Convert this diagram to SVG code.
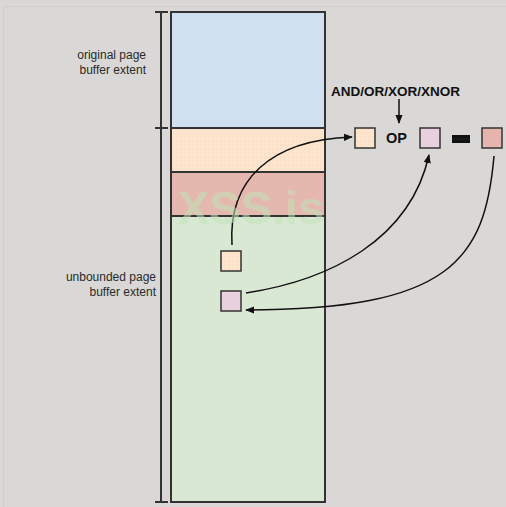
<svg xmlns="http://www.w3.org/2000/svg" width="506" height="507" viewBox="0 0 506 507">
<defs>
<pattern id="dots" width="4" height="4" patternUnits="userSpaceOnUse">
<rect width="4" height="4" fill="#fde5cd"/>
<circle cx="1" cy="1" r="0.5" fill="#f0cdb0"/>
</pattern>
<marker id="ah" viewBox="0 0 10 10" refX="9" refY="5" markerWidth="9" markerHeight="9" markerUnits="userSpaceOnUse" orient="auto">
<path d="M0,1 L10,5 L0,9 z" fill="#111"/>
</marker>
<style>
.lbl{font-family:"Liberation Sans",Arial,sans-serif;font-size:12px;fill:#2a2a2a;text-anchor:end}
.bold{font-family:"Liberation Sans",Arial,sans-serif;font-weight:bold;fill:#111}
.seg{stroke:#333;stroke-width:2}
.box{stroke:#333;stroke-width:1.5}
.conn{fill:none;stroke:#111;stroke-width:1.5}
.brk{stroke:#333;stroke-width:2;fill:none}
</style>
</defs>
<rect width="506" height="507" fill="#d9d8d6"/>
<rect x="3.5" y="6.5" width="510" height="510" fill="none" stroke="#cfcecc" stroke-width="1"/>

<g id="buffer">
<rect x="171" y="12" width="154" height="116" fill="#cfe1f0" class="seg"/>
<rect x="171" y="128" width="154" height="44" fill="url(#dots)" class="seg"/>
<rect x="171" y="172" width="154" height="44" fill="#e5b8af" class="seg"/>
<rect x="171" y="216" width="154" height="286" fill="#d9e8d3" class="seg"/>
</g>

<g id="brackets">
<path class="brk" d="M161,12 V502 M155,12 H168 M155,128 H168 M155,502 H168"/>
</g>

<g id="labels">
<text class="lbl" x="146" y="59">original page</text>
<text class="lbl" x="146" y="74">buffer extent</text>
<text class="lbl" x="156" y="281">unbounded page</text>
<text class="lbl" x="156" y="296">buffer extent</text>
</g>

<g id="op-label">
<text class="bold" x="331" y="96" font-size="13.5">AND/OR/XOR/XNOR</text>
</g>

<g id="box1"><rect class="box" x="355" y="128" width="20" height="20" fill="url(#dots)"/></g>
<g id="op"><text class="bold" x="386" y="143" font-size="14.5">OP</text></g>
<g id="box2"><rect class="box" x="420" y="128" width="20" height="20" fill="#e9d0de"/></g>
<g id="equals"><rect x="452" y="135" width="18" height="8" fill="#111"/><line x1="452" y1="139" x2="470" y2="139" stroke="#444" stroke-width="0.7" stroke-dasharray="1,1"/></g>
<g id="box3"><rect class="box" x="482" y="128" width="20" height="20" fill="#e5b5ad"/></g>
<g id="src1"><rect class="box" x="221" y="251" width="20" height="20" fill="url(#dots)"/></g>
<g id="src2"><rect class="box" x="221" y="291" width="20" height="20" fill="#e9d0de"/></g>

<g id="connectors">
<path class="conn" d="M399,99 V123" marker-end="url(#ah)"/>
<path class="conn" d="M232,245 C228,180 270,140 352,137" marker-end="url(#ah)"/>
<path class="conn" d="M246,293 C330,280 410,240 429,155" marker-end="url(#ah)"/>
<path class="conn" d="M494,156 C485,260 450,310 246,310" marker-end="url(#ah)"/>
</g>

<g id="watermark" opacity="0.55">
<text x="178" y="224" font-family="'Liberation Sans',Arial,sans-serif" font-weight="bold" font-size="47" fill="#c2e3b8">XSS.is</text>
</g>
</svg>
